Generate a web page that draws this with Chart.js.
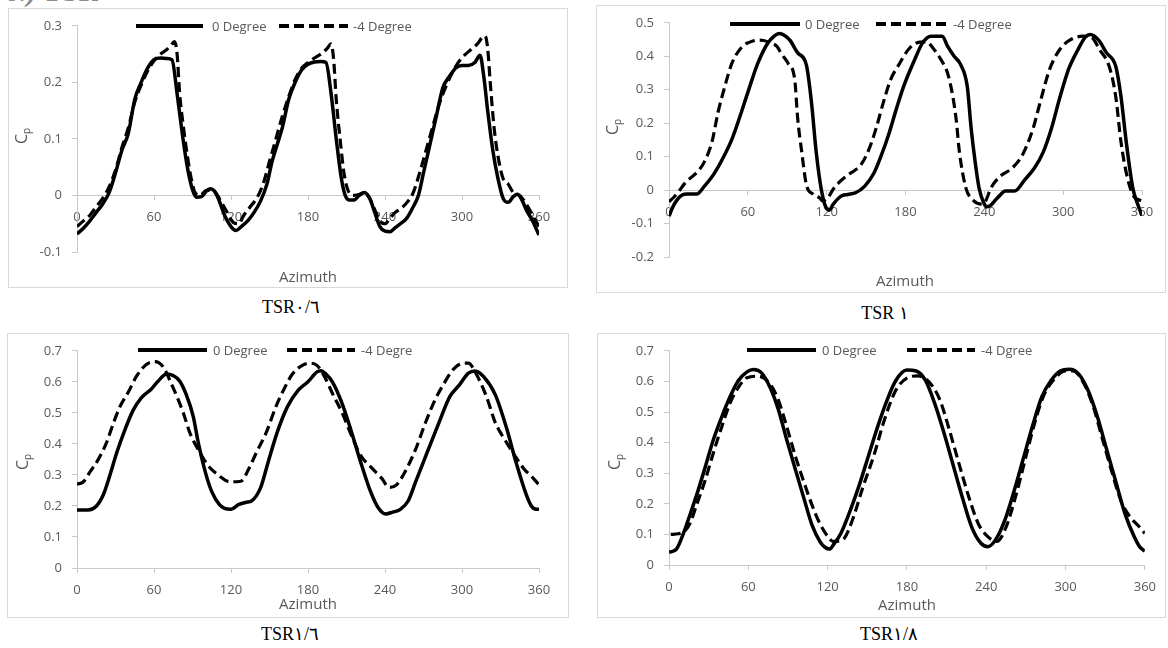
<!DOCTYPE html>
<html>
<head>
<meta charset="utf-8">
<title>Cp vs Azimuth</title>
<script src="https://cdn.jsdelivr.net/npm/chart.js@4.4.1/dist/chart.umd.min.js"></script>
<style>
  body { margin:0; width:1168px; height:648px; background:#fff; position:relative; overflow:hidden; font-family:"Open Sans", sans-serif; }
  .frame { position:absolute; border:1px solid #d9d9d9; box-sizing:border-box; }
  canvas { position:absolute; }
  .lbl { position:absolute; color:#595959; white-space:nowrap; line-height:1; }
  .axis-title { font-size:15px; transform:translate(-50%,-50%); }
  .cp { font-size:16px; transform:translate(-50%,-50%) rotate(-90deg); }
  .cp sub { font-size:10px; vertical-align:-3px; }
  .key-text { font-size:13px; transform:translateY(-50%); }
  .caption { position:absolute; font-family:"Liberation Serif","Times New Roman",serif; font-size:18px; color:#000; transform:translate(-50%,-50%); white-space:nowrap; line-height:1; }
  svg.key { position:absolute; overflow:visible; }
  #head { position:absolute; left:6px; top:-24px; font:italic bold 30px/30px "Liberation Serif", serif; color:#8c8c8c; }
</style>
</head>
<body>
<div id="head">c.) TSR</div>

<div class="frame" style="left:8px;top:8px;width:560px;height:280px"></div>
<div class="frame" style="left:596px;top:5px;width:570px;height:288px"></div>
<div class="frame" style="left:7px;top:333px;width:562px;height:285px"></div>
<div class="frame" style="left:597px;top:333px;width:569px;height:285px"></div>

<canvas id="c1" width="560" height="280" style="left:8px;top:8px;width:560px;height:280px"></canvas>
<canvas id="c2" width="570" height="288" style="left:596px;top:5px;width:570px;height:288px"></canvas>
<canvas id="c3" width="562" height="285" style="left:7px;top:333px;width:562px;height:285px"></canvas>
<canvas id="c4" width="569" height="285" style="left:597px;top:333px;width:569px;height:285px"></canvas>

<div class="caption" style="left:291px;top:307px">TSR&#1632;/&#1638;</div>
<div class="caption" style="left:885px;top:313px">TSR &#1633;</div>
<div class="caption" style="left:290px;top:634px">TSR&#1633;/&#1638;</div>
<div class="caption" style="left:889px;top:634px">TSR&#1633;/&#1640;</div>

<script>
// azimuth (deg) / power coefficient pairs, one array per curve
const tsr06Deg0 = [[0,-0.068],[5,-0.058],[10,-0.045],[15,-0.03],[20,-0.015],[25,0.005],[30,0.04],[35,0.08],[40,0.11],[45,0.17],[50,0.2],[55,0.225],[60,0.24],[65,0.243],[70,0.242],[74,0.24],[78,0.18],[82,0.11],[86,0.05],[90,0.01],[93,-0.003],[97,-0.002],[101,0.008],[104,0.012],[107,0.008],[110,-0.005],[115,-0.035],[120,-0.055],[124,-0.062],[128,-0.055],[133,-0.045],[138,-0.03],[143,-0.01],[148,0.02],[152,0.06],[156,0.09],[160,0.12],[165,0.17],[170,0.2],[175,0.222],[180,0.232],[185,0.236],[190,0.237],[194,0.235],[198,0.18],[202,0.1],[206,0.03],[209,0.0],[212,-0.008],[216,-0.008],[220,0.0],[224,0.005],[228,-0.005],[232,-0.03],[236,-0.055],[240,-0.063],[244,-0.064],[248,-0.057],[252,-0.05],[257,-0.04],[262,-0.02],[266,0.0],[270,0.04],[275,0.09],[280,0.14],[285,0.19],[290,0.21],[295,0.225],[300,0.23],[305,0.23],[310,0.235],[314,0.248],[317,0.21],[320,0.15],[324,0.08],[328,0.03],[332,-0.005],[336,-0.012],[340,-0.002],[343,0.002],[346,-0.005],[350,-0.025],[355,-0.045],[360,-0.07]];
const tsr06DegM4 = [[0,-0.055],[5,-0.045],[10,-0.035],[15,-0.02],[20,-0.005],[25,0.015],[30,0.045],[35,0.085],[40,0.12],[45,0.165],[50,0.195],[55,0.22],[60,0.238],[65,0.25],[70,0.258],[73,0.265],[76,0.272],[78,0.25],[80,0.18],[83,0.12],[86,0.07],[89,0.03],[92,0.005],[96,0.0],[100,0.008],[104,0.01],[108,0.005],[112,-0.01],[117,-0.03],[122,-0.048],[126,-0.05],[130,-0.035],[135,-0.02],[140,-0.005],[145,0.02],[150,0.06],[155,0.1],[160,0.14],[165,0.175],[170,0.205],[175,0.225],[180,0.235],[185,0.243],[190,0.25],[195,0.26],[198,0.268],[200,0.24],[202,0.17],[205,0.1],[208,0.04],[211,0.01],[215,0.0],[220,0.002],[224,0.005],[228,-0.005],[232,-0.025],[236,-0.045],[240,-0.05],[244,-0.04],[248,-0.03],[253,-0.022],[258,-0.01],[262,0.005],[267,0.04],[272,0.08],[277,0.12],[282,0.16],[287,0.19],[292,0.215],[297,0.235],[302,0.248],[307,0.258],[312,0.268],[316,0.28],[318,0.282],[320,0.26],[322,0.2],[325,0.12],[328,0.07],[332,0.03],[336,0.02],[340,0.005],[345,0.0],[350,-0.015],[355,-0.035],[360,-0.055]];

const tsr1Deg0 = [[0,-0.078],[3,-0.05],[6,-0.03],[10,-0.015],[14,-0.012],[21,-0.012],[27,0.012],[34,0.047],[41,0.095],[48,0.153],[55,0.232],[61.5,0.31],[67.7,0.38],[75,0.438],[80,0.46],[84,0.468],[88,0.462],[92,0.448],[98,0.41],[104.5,0.375],[108.5,0.26],[112,0.115],[116,0.0],[120,-0.056],[122,-0.06],[125,-0.042],[131,-0.018],[136,-0.013],[142,-0.008],[149,0.012],[156,0.051],[161.7,0.105],[167,0.164],[173,0.242],[178.6,0.31],[187,0.39],[193,0.44],[199.5,0.46],[208,0.46],[212,0.43],[217,0.4],[222,0.375],[227,0.31],[230,0.183],[233,0.085],[236,0.006],[240,-0.042],[242,-0.05],[245,-0.045],[248,-0.032],[252,-0.015],[256,-0.003],[263,-0.003],[271,0.032],[278,0.065],[285,0.115],[291,0.183],[297,0.27],[304,0.36],[311,0.418],[317,0.458],[320.5,0.465],[327,0.448],[333,0.41],[340,0.37],[344,0.28],[348,0.144],[353,0.006],[357,-0.045],[360,-0.076]];
const tsr1DegM4 = [[0,-0.035],[4,-0.02],[7.6,-0.003],[12,0.02],[16,0.035],[22,0.056],[27,0.085],[32.7,0.144],[37.3,0.232],[42.5,0.31],[48,0.38],[56,0.43],[62,0.443],[67,0.448],[72,0.447],[77,0.44],[82,0.43],[86,0.405],[90.5,0.38],[95.7,0.33],[98,0.212],[101,0.115],[104.5,0.017],[109.5,-0.012],[114.5,-0.023],[117,-0.032],[121,-0.023],[125,0.003],[130,0.025],[136,0.045],[141,0.058],[146,0.075],[152,0.12],[157.5,0.183],[163,0.26],[168.7,0.33],[175,0.375],[183,0.424],[190.7,0.442],[196,0.443],[201,0.424],[207,0.39],[212,0.35],[216,0.28],[218.6,0.21],[221,0.115],[226,0.006],[232,-0.032],[238,-0.042],[241,-0.032],[245,0.006],[252,0.041],[261,0.065],[269,0.105],[277,0.183],[283,0.27],[289.6,0.36],[297,0.418],[305,0.448],[315,0.46],[321,0.458],[328,0.418],[335,0.37],[340,0.28],[344,0.144],[349,0.035],[354,-0.02],[360,-0.032]];

const tsr16Deg0 = [[0,0.187],[8.6,0.187],[15,0.199],[20.5,0.236],[25.7,0.3],[31,0.372],[37.4,0.446],[43.7,0.508],[50.4,0.55],[58,0.577],[63.3,0.603],[70,0.625],[75,0.62],[80,0.603],[85,0.56],[90.6,0.488],[94.5,0.404],[100,0.309],[105,0.246],[111,0.204],[115,0.192],[120,0.189],[125.7,0.204],[132,0.212],[136,0.216],[143,0.258],[149,0.342],[156,0.437],[164,0.52],[172.6,0.574],[180,0.6],[187,0.632],[190,0.636],[194,0.625],[199,0.6],[206.6,0.53],[214,0.437],[221,0.342],[228.7,0.247],[234.6,0.195],[240.5,0.174],[246,0.18],[252,0.189],[258,0.216],[264,0.279],[273,0.374],[282,0.468],[290.6,0.553],[298,0.59],[305,0.628],[310,0.635],[317,0.616],[326,0.558],[335,0.447],[342,0.342],[350,0.237],[354,0.2],[357,0.19],[360,0.189]];
const tsr16DegM4 = [[0,0.27],[5,0.278],[10,0.309],[16.6,0.35],[23,0.404],[28.4,0.467],[33.5,0.52],[40,0.567],[46.5,0.619],[54,0.656],[60.8,0.665],[67.4,0.647],[72.5,0.603],[78,0.551],[83,0.498],[88,0.435],[95.8,0.372],[102,0.331],[110,0.3],[119,0.278],[124.5,0.278],[128,0.28],[134,0.321],[140,0.374],[147.5,0.437],[155,0.52],[161,0.574],[168,0.626],[175.6,0.653],[181,0.66],[187,0.653],[193,0.616],[199,0.563],[206.6,0.5],[214,0.426],[221,0.363],[230,0.321],[237.5,0.289],[243,0.26],[249,0.268],[257,0.321],[264,0.384],[271.5,0.468],[279,0.542],[286,0.595],[293.6,0.642],[301,0.66],[305,0.66],[311,0.626],[319,0.553],[326,0.468],[333,0.416],[341,0.363],[348,0.321],[355.6,0.289],[360,0.268]];

const tsr18Deg0 = [[0,0.042],[3,0.045],[5.8,0.053],[10.8,0.102],[16,0.166],[21,0.23],[27,0.314],[33.6,0.41],[40,0.485],[46,0.548],[52.4,0.602],[59,0.631],[63.8,0.639],[70,0.628],[76.5,0.58],[82.8,0.507],[89,0.41],[95.5,0.314],[102,0.219],[108,0.133],[114.4,0.075],[118,0.058],[121.4,0.052],[125,0.07],[130,0.103],[137,0.177],[144,0.262],[151,0.358],[158,0.454],[165,0.539],[171.6,0.603],[180,0.637],[187,0.634],[194,0.603],[201,0.528],[208,0.432],[215,0.326],[222,0.22],[229,0.124],[236,0.071],[241.4,0.06],[247,0.082],[254,0.146],[261,0.241],[268,0.347],[275,0.454],[282,0.549],[289,0.603],[296,0.634],[303,0.64],[310,0.624],[317,0.571],[324,0.486],[331,0.379],[338,0.273],[345,0.167],[352,0.092],[356,0.06],[360,0.045]];
const tsr18DegM4 = [[1.3,0.1],[7,0.102],[12,0.111],[16,0.137],[21,0.198],[27,0.272],[33.6,0.367],[40,0.453],[46,0.527],[52.4,0.58],[59,0.612],[67.5,0.617],[76.5,0.591],[82.8,0.538],[89,0.453],[95.5,0.357],[102,0.272],[108,0.198],[114.4,0.133],[120.7,0.09],[124,0.077],[128,0.078],[132.6,0.087],[139.5,0.156],[146.5,0.252],[155,0.358],[163,0.475],[171.6,0.571],[181,0.613],[188,0.618],[197,0.597],[205,0.539],[212,0.443],[219,0.337],[227,0.22],[234,0.135],[241.4,0.092],[248,0.077],[255,0.124],[262,0.22],[269,0.337],[276,0.454],[283,0.549],[291.6,0.608],[300,0.634],[305.6,0.634],[314,0.592],[321,0.517],[328,0.411],[335,0.305],[342,0.209],[349,0.156],[356,0.124],[360,0.103]];

// tick labels
const azimuthTicks = [0, 60, 120, 180, 240, 300, 360];
const cpTicksTsr06 = [-0.1, 0, 0.1, 0.2, 0.3];
const cpTicksTsr1 = [-0.2, -0.1, 0, 0.1, 0.2, 0.3, 0.4, 0.5];
const cpTicksHigh = [0, 0.1, 0.2, 0.3, 0.4, 0.5, 0.6, 0.7];

// legend entries as spelled in each panel
const namesTsr06 = ['0 Degree', '-4 Degree'];
const namesTsr1 = ['0 Degree', '-4 Degree'];
const namesTsr16 = ['0 Degree', '-4 Degre'];
const namesTsr18 = ['0 Degree', '-4 Dgree'];

// panel layout: canvas id, y-axis box width, paddings, legend/title spots
const panels = [
  { id:'c1', yw:69, pad:{top:16, right:29, bottom:36}, ticks:cpTicksTsr06, solid:tsr06Deg0, dashed:tsr06DegM4, names:namesTsr06,
    key:{y:26, solid:[136,203,212], dashed:[279,348,353]}, az:[308,276], cp:[22,136] },
  { id:'c2', yw:73, pad:{top:14, right:24, bottom:36}, ticks:cpTicksTsr1, solid:tsr1Deg0, dashed:tsr1DegM4, names:namesTsr1,
    key:{y:24, solid:[730,800,805], dashed:[876,946,953]}, az:[905,280], cp:[613,127] },
  { id:'c3', yw:70, pad:{top:13, right:30, bottom:50}, ticks:cpTicksHigh, solid:tsr16Deg0, dashed:tsr16DegM4, names:namesTsr16,
    key:{y:350, solid:[138,207,213], dashed:[287,355,361]}, az:[308,603], cp:[23,462] },
  { id:'c4', yw:72, pad:{top:13, right:19, bottom:53}, ticks:cpTicksHigh, solid:tsr18Deg0, dashed:tsr18DegM4, names:namesTsr18,
    key:{y:350, solid:[747,816,822], dashed:[907,975,981]}, az:[907,604], cp:[615,462] }
];

const AXIS_GREY = '#c8c8c8';
const TEXT_GREY = '#595959';
const DASH = [10, 5];

Chart.defaults.font.family = '"Open Sans", sans-serif';
Chart.defaults.font.size = 13;
Chart.defaults.color = TEXT_GREY;

const toPoints = arr => arr.map(([x, y]) => ({ x, y }));

function addLabel(cls, html, x, y) {
  const d = document.createElement('div');
  d.className = 'lbl ' + cls;
  d.innerHTML = html;
  d.style.left = x + 'px';
  d.style.top = y + 'px';
  document.body.appendChild(d);
}

function addKey(x1, x2, y, dashed) {
  const ns = 'http://www.w3.org/2000/svg';
  const svg = document.createElementNS(ns, 'svg');
  svg.setAttribute('class', 'key');
  svg.setAttribute('width', x2 - x1);
  svg.setAttribute('height', 6);
  svg.style.left = x1 + 'px';
  svg.style.top = (y - 3) + 'px';
  const ln = document.createElementNS(ns, 'line');
  ln.setAttribute('x1', 0); ln.setAttribute('x2', x2 - x1);
  ln.setAttribute('y1', 3); ln.setAttribute('y2', 3);
  ln.setAttribute('stroke', '#000');
  ln.setAttribute('stroke-width', 4);
  if (dashed) ln.setAttribute('stroke-dasharray', DASH.join(' '));
  svg.appendChild(ln);
  document.body.appendChild(svg);
}

function drawPanel(p) {
  const grid = { drawOnChartArea: false, drawTicks: true, color: AXIS_GREY };
  const border = { display: true, color: AXIS_GREY, width: 1 };
  new Chart(document.getElementById(p.id), {
    type: 'line',
    data: {
      datasets: [
        { label: p.names[0], data: toPoints(p.solid), borderColor: '#000', borderWidth: 3.5,
          pointRadius: 0, cubicInterpolationMode: 'monotone', fill: false },
        { label: p.names[1], data: toPoints(p.dashed), borderColor: '#000', borderWidth: 3.2, borderDash: DASH,
          pointRadius: 0, cubicInterpolationMode: 'monotone', fill: false }
      ]
    },
    options: {
      responsive: false,
      animation: false,
      events: [],
      layout: { padding: { left: 0, top: p.pad.top, right: p.pad.right, bottom: p.pad.bottom } },
      plugins: { legend: { display: false }, tooltip: { enabled: false } },
      scales: {
        x: {
          type: 'linear', min: 0, max: 360, position: { y: 0 },
          afterBuildTicks: s => { s.ticks = azimuthTicks.map(v => ({ value: v })); },
          grid: { ...grid, tickLength: 4 }, border,
          ticks: { padding: 10, maxRotation: 0, autoSkip: false }
        },
        y: {
          type: 'linear', min: p.ticks[0], max: p.ticks[p.ticks.length - 1],
          afterBuildTicks: s => { s.ticks = p.ticks.map(v => ({ value: v })); },
          afterFit: s => { s.width = p.yw; },
          grid: { ...grid, tickLength: 5 }, border,
          ticks: { padding: 10, callback: v => String(Math.round(v * 10) / 10) }
        }
      }
    }
  });

  // legend keys, axis titles
  addKey(p.key.solid[0], p.key.solid[1], p.key.y, false);
  addLabel('key-text', p.names[0], p.key.solid[2], p.key.y);
  addKey(p.key.dashed[0], p.key.dashed[1], p.key.y, true);
  addLabel('key-text', p.names[1], p.key.dashed[2], p.key.y);
  addLabel('axis-title', 'Azimuth', p.az[0], p.az[1]);
  addLabel('cp', 'C<sub>p</sub>', p.cp[0], p.cp[1]);
}

panels.forEach(drawPanel);
</script>
</body>
</html>
